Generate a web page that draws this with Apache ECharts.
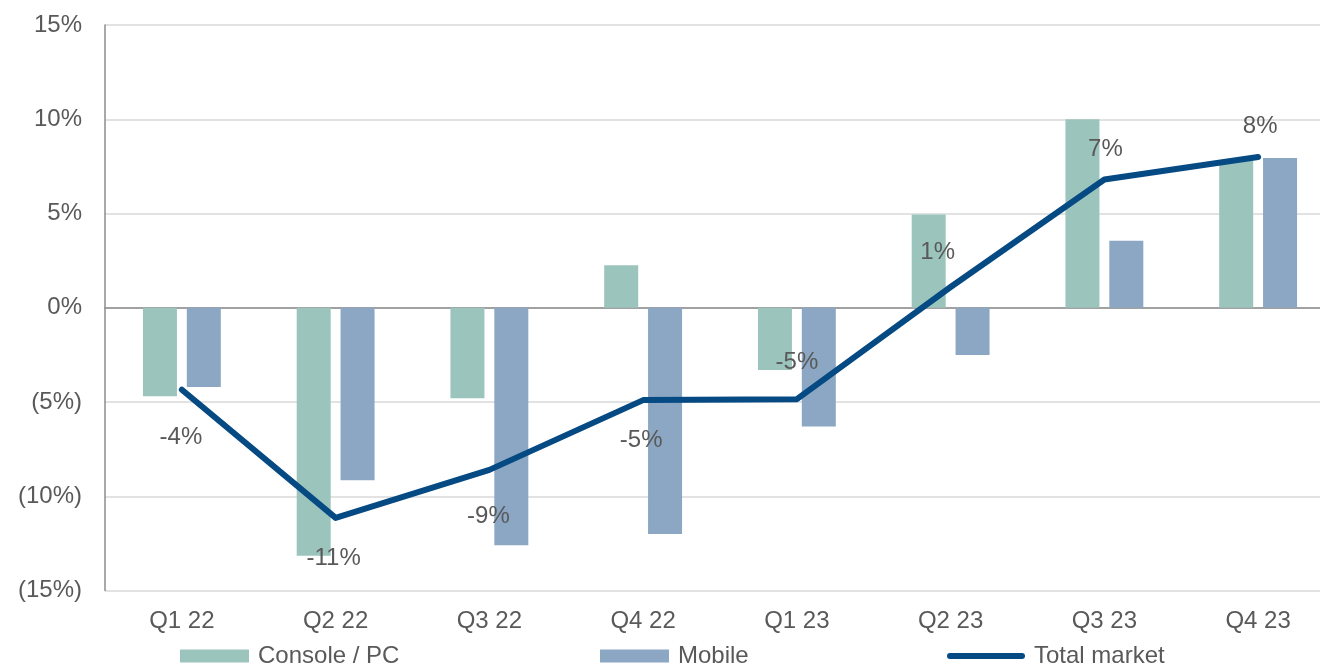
<!DOCTYPE html>
<html>
<head>
<meta charset="utf-8">
<script src="https://cdn.jsdelivr.net/npm/echarts@6/dist/echarts.min.js"></script>
<style>
html,body{margin:0;padding:0;background:#fff;overflow:hidden;width:1320px;height:665px;}
#chart{width:1335px;height:665px;}
</style>
</head>
<body>
<div id="chart"></div>
<script>
const categories = ['Q1 22', 'Q2 22', 'Q3 22', 'Q4 22', 'Q1 23', 'Q2 23', 'Q3 23', 'Q4 23'];
const consolePc = [-4.7, -13.15, -4.8, 2.25, -3.3, 4.95, 10.0, 7.8];
const mobile = [-4.2, -9.15, -12.6, -12.0, -6.3, -2.5, 3.55, 7.95];
const totalMarket = [-4.35, -11.15, -8.6, -4.9, -4.85, 1.1, 6.8, 8.0];
const yTicks = { min: -15, max: 15, step: 5 };

const FONT = 'Liberation Sans, Arial, sans-serif';
const GRAY_TEXT = '#595959';
const FS = 24;

// label placement per point (style only)
const labelPlace = [
  { position: 'bottom', distance: 36, offset: [-1, 0] },
  { position: 'bottom', distance: 28, offset: [-2, 0] },
  { position: 'bottom', distance: 35, offset: [-1, 0] },
  { position: 'bottom', distance: 28, offset: [-2, 0] },
  { position: 'top', distance: 25, offset: [0, 0] },
  { position: 'top', distance: 23, offset: [-13, 0] },
  { position: 'top', distance: 18, offset: [1, 0] },
  { position: 'top', distance: 19, offset: [2, 0] }
];

const lineData = totalMarket.map((v, i) => ({
  value: v,
  label: Object.assign({ show: true }, labelPlace[i])
}));

const chart = echarts.init(document.getElementById('chart'), null, { renderer: 'canvas' });

const legendText = { color: GRAY_TEXT, fontSize: FS, fontFamily: FONT, padding: [0, 0, 0, 4] };

chart.setOption({
  animation: false,
  backgroundColor: '#ffffff',
  textStyle: { fontFamily: FONT },
  grid: { left: 105, right: 0, top: 25, bottom: 74.5, containLabel: false },
  legend: [
    { data: ['Console / PC'], left: 180, top: 644, padding: 0, itemWidth: 69, itemHeight: 13, icon: 'rect', textStyle: legendText },
    { data: ['Mobile'], left: 600, top: 644, padding: 0, itemWidth: 69, itemHeight: 13, icon: 'rect', textStyle: legendText },
    { data: ['Total market'], left: 947, top: 644, padding: 0, itemWidth: 78, itemHeight: 6,
      icon: 'path://M3,0 L75,0 A3,3 0 0 1 75,6 L3,6 A3,3 0 0 1 3,0 Z', textStyle: legendText }
  ],
  xAxis: [
    {
      type: 'category',
      data: categories,
      position: 'bottom',
      axisLine: { show: false, onZero: false },
      axisTick: { show: false },
      axisLabel: { color: GRAY_TEXT, fontSize: FS, fontFamily: FONT, margin: 19 },
      splitLine: { show: false }
    },
    {
      type: 'category',
      data: categories,
      position: 'bottom',
      axisLine: { show: true, onZero: true, lineStyle: { color: '#8c8c8c', width: 1.5 } },
      axisTick: { show: false },
      axisLabel: { show: false },
      splitLine: { show: false }
    }
  ],
  yAxis: {
    type: 'value',
    min: yTicks.min,
    max: yTicks.max,
    interval: yTicks.step,
    axisLine: { show: true, onZero: false, lineStyle: { color: '#8c8c8c', width: 1.5 } },
    axisTick: { show: false },
    axisLabel: {
      color: GRAY_TEXT, fontSize: FS, fontFamily: FONT, margin: 23,
      formatter: v => v < 0 ? '(' + Math.abs(v) + '%)' : v + '%'
    },
    splitLine: { show: true, lineStyle: { color: '#d9d9d9', width: 1.5 } }
  },
  series: [
    {
      name: 'Console / PC',
      type: 'bar',
      data: consolePc,
      barWidth: 34,
      barGap: '29%',
      itemStyle: { color: '#9bc4bd' },
      z: 2
    },
    {
      name: 'Mobile',
      type: 'bar',
      data: mobile,
      barWidth: 34,
      barGap: '29%',
      itemStyle: { color: '#8ba7c3' },
      z: 2
    },
    {
      name: 'Total market',
      type: 'line',
      data: lineData,
      symbol: 'circle',
      symbolSize: 0.01,
      showSymbol: true,
      lineStyle: { color: '#064a84', width: 6, cap: 'round', join: 'round' },
      itemStyle: { color: '#064a84' },
      label: {
        show: true,
        color: GRAY_TEXT,
        fontSize: FS,
        fontFamily: FONT,
        formatter: p => Math.round(p.value) + '%'
      },
      z: 5
    }
  ]
});
</script>
</body>
</html>
